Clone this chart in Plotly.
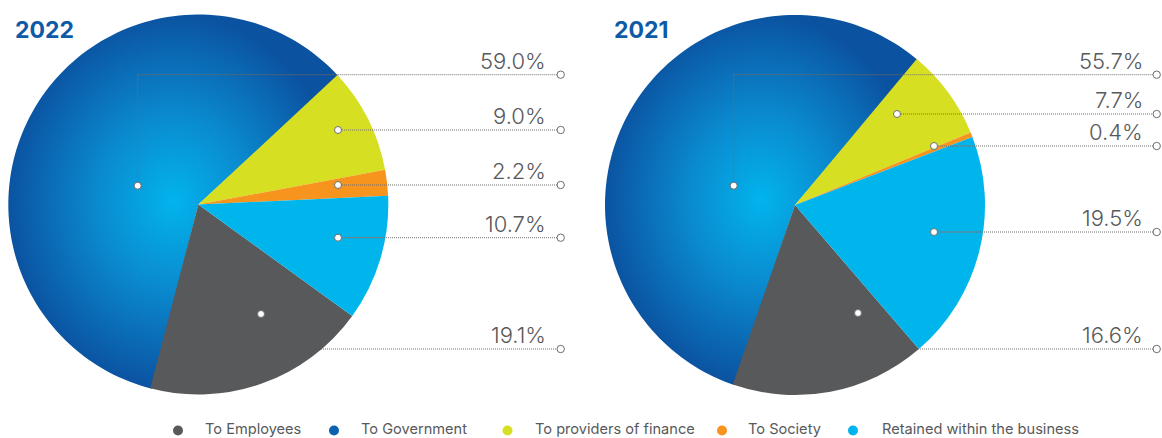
import math
import plotly.graph_objects as go

W, H = 1162, 438

# ---- data -------------------------------------------------------------
categories = ["To Employees", "To Government", "To providers of finance",
              "To Society", "Retained within the business"]
years = ["2022", "2021"]
values_2022 = [19.1, 59.0, 9.0, 2.2, 10.7]
values_2021 = [16.6, 55.7, 7.7, 0.4, 19.5]

# ---- styling ----------------------------------------------------------
slice_colors = ["#58595b", "#0b63b0", "#d7df23", "#f7941d", "#00b5ec"]
gov_gradient = [[0.0, "#02b4ec"], [0.45, "#0a8bd0"], [1.0, "#0b53a1"]]
text_grey = "#58595b"
title_blue = "#0d5aa7"
leader_grey = "#6f6f6f"
FONT = "Inter, 'Open Sans', sans-serif"

# pixel geometry of each pie and its call-out lines
layouts = [
    dict(cx=198.3, cy=204.5, r=190, rotation=125.9, title_x=13,
         label_right=548, line_end=560.7,
         # (dot x, dot y, line y) in category order
         leaders=[(261, 314, 349), (137.7, 185.7, 74.7), (338, 130, 130),
                  (338, 185, 185), (338, 237.7, 237.7)]),
    dict(cx=795, cy=205, r=190, rotation=139.3, title_x=611.5,
         label_right=1144.5, line_end=1156.7,
         leaders=[(858, 313, 349), (733.7, 185.7, 74.7), (897, 114, 114),
                  (934, 146, 146), (934, 232, 232)]),
]

# legend row: marker x and text x for each category
legend_dot_y = 430.5
legend_text_y = 428.5
legend_dot_x = [178, 334, 507.5, 722, 853]
legend_text_x = [204, 360, 534, 747, 881]

fig = go.Figure()
shapes, annotations = [], []


def wedge(cx, cy, r, a0, a1, n=120):
    """Closed polygon for a pie wedge, angles clockwise from 12 o'clock."""
    xs, ys = [cx], [cy]
    for k in range(n + 1):
        a = math.radians(a0 + (a1 - a0) * k / n)
        xs.append(cx + r * math.sin(a))
        ys.append(cy - r * math.cos(a))
    xs.append(cx)
    ys.append(cy)
    return xs, ys


def ring(x, y, rad, fill="white", edge="#6d6d6d"):
    return dict(type="circle", xref="x", yref="y", layer="above",
                x0=x - rad, x1=x + rad, y0=y - rad, y1=y + rad,
                fillcolor=fill, line=dict(color=edge, width=1 if edge else 0))


def hline(x0, y0, x1, y1, layer="above"):
    return dict(type="line", xref="x", yref="y", layer=layer,
                x0=x0, y0=y0, x1=x1, y1=y1,
                line=dict(color=leader_grey, width=1, dash="1px,1px"))


for year, vals, geo in zip(years, [values_2022, values_2021], layouts):
    cx, cy, r = geo["cx"], geo["cy"], geo["r"]
    total = sum(vals)

    # gradient under the (transparent) government slice
    start = geo["rotation"] + 360 * vals[0] / total
    end = start + 360 * vals[1] / total
    gx, gy = wedge(cx, cy, r, start - 0.5, end + 0.5)
    fig.add_trace(go.Scatter(
        x=gx, y=gy, mode="none", fill="toself",
        fillgradient=dict(type="radial", colorscale=gov_gradient),
        hoverinfo="skip", showlegend=False, xaxis="x", yaxis="y"))

    colors = list(slice_colors)
    colors[1] = "rgba(0,0,0,0)"
    fig.add_trace(go.Pie(
        labels=categories, values=vals, sort=False, direction="clockwise",
        rotation=geo["rotation"], textinfo="none", showlegend=False,
        marker=dict(colors=colors, line=dict(width=0)),
        domain=dict(x=[(cx - r) / W, (cx + r) / W],
                    y=[(H - (cy + r)) / H, (H - (cy - r)) / H]),
        name=year, hovertemplate="%{label}: %{value:.1f}%<extra>" + year + "</extra>"))

    # year heading
    annotations.append(dict(
        x=geo["title_x"], y=30, xref="x", yref="y", xanchor="left", yanchor="middle",
        text=f"<b>{year}</b>", showarrow=False,
        font=dict(family=FONT, size=23, color=title_blue)))

    # call-out lines, dots and percentage labels
    for i, (v, (dx, dy, ly)) in enumerate(zip(vals, geo["leaders"])):
        e = geo["line_end"]
        if i == 0:
            # runs in from behind the pie
            shapes.append(hline(dx, ly, e, ly, layer="below"))
        else:
            if abs(ly - dy) > 0.5:
                shapes.append(hline(dx, dy, dx, ly))
            shapes.append(hline(dx, ly, e, ly))
        shapes.append(ring(dx, dy, 3.5))
        shapes.append(ring(e, ly, 3.7))
        annotations.append(dict(
            x=geo["label_right"], y=ly - 14, xref="x", yref="y",
            xanchor="right", yanchor="middle", showarrow=False,
            text=f"{v:.1f}%",
            font=dict(family=FONT, size=22, color=text_grey, weight=300)))

# legend row with round markers
for name, col, mx, tx in zip(categories, slice_colors, legend_dot_x, legend_text_x):
    shapes.append(ring(mx, legend_dot_y, 5, fill=col, edge=None))
    annotations.append(dict(
        x=tx, y=legend_text_y, xref="x", yref="y", xanchor="left", yanchor="middle",
        text=name, showarrow=False, borderpad=0,
        font=dict(family=FONT, size=14.6, color=text_grey)))

fig.update_layout(
    width=W, height=H,
    margin=dict(l=0, r=0, t=0, b=0),
    paper_bgcolor="white", plot_bgcolor="rgba(0,0,0,0)",
    xaxis=dict(range=[0, W], visible=False, fixedrange=True, domain=[0, 1]),
    yaxis=dict(range=[H, 0], visible=False, fixedrange=True, domain=[0, 1]),
    shapes=shapes, annotations=annotations,
    showlegend=False,
)

fig.write_html("out.html")
